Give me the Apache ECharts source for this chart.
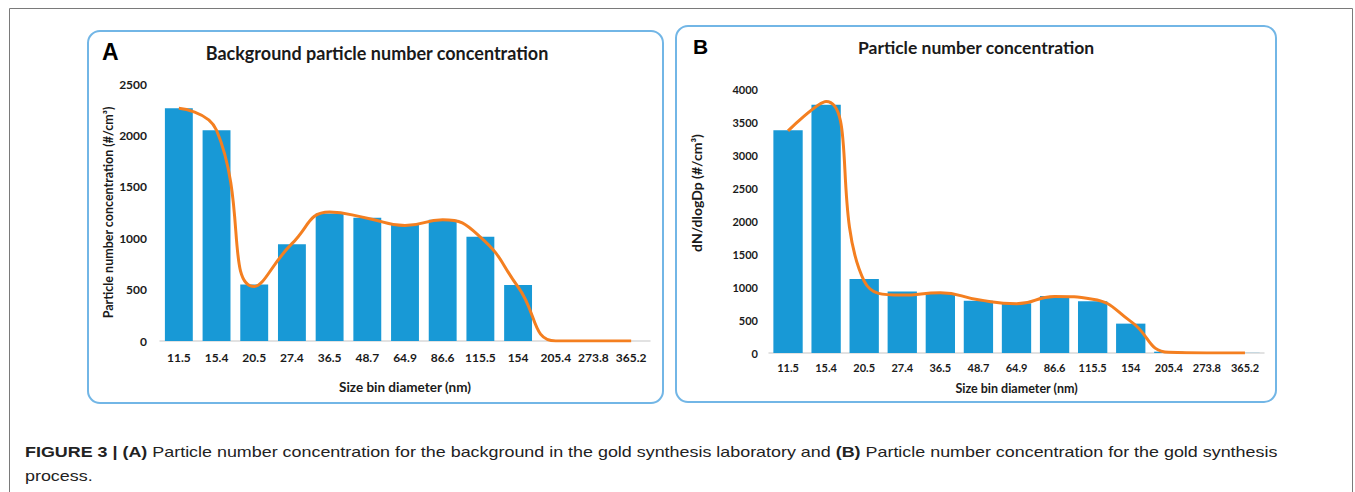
<!DOCTYPE html>
<html>
<head>
<meta charset="utf-8">
<script src="https://cdn.jsdelivr.net/npm/echarts@6/dist/echarts.min.js"></script>
<style>
  html, body { margin: 0; padding: 0; background: #fff; }
  #wrap { position: relative; width: 1355px; height: 492px; overflow: hidden; }
  #chart { position: absolute; left: 0; top: 0; width: 1355px; height: 492px; }
  #caption { position: absolute; left: 25px; top: 440px; width: 1100px; white-space: nowrap;
    transform: scaleX(1.193); transform-origin: 0 0;
    font-family: "Liberation Sans", Arial, sans-serif; font-size: 15px; line-height: 24px; color: #222; }
  #caption b { font-weight: bold; }
</style>
</head>
<body>
<div id="wrap">
  <div id="chart"></div>
  <div id="caption"><b>FIGURE 3 | (A)</b> Particle number concentration for the background in the gold synthesis laboratory and <b>(B)</b> Particle number concentration for the gold synthesis<br>process.</div>
</div>
<script>
const categories = ['11.5', '15.4', '20.5', '27.4', '36.5', '48.7', '64.9', '86.6', '115.5', '154', '205.4', '273.8', '365.2'];
const barsA = [2265, 2050, 550, 940, 1240, 1200, 1130, 1180, 1015, 545, 0, 0, 0];
const curveA = [2264, 2050, 530, 947, 1255, 1195, 1124, 1179, 1011, 526, 0, 0, 0];
const barsB = [3375, 3760, 1120, 930, 910, 790, 755, 865, 785, 445, 20, 3, 2];
const curveB = [3365, 3810, 1090, 877, 913, 807, 746, 857, 815, 479, 10, 0, 0];
const ticksA = [0, 500, 1000, 1500, 2000, 2500];
const ticksB = [0, 500, 1000, 1500, 2000, 2500, 3000, 3500, 4000];

const FONT = 'Lato, "Open Sans", sans-serif';
const TXT = '#1a1a1a';
const BAR = '#1899d6';
const LINE = '#f47f20';
const BOX = '#72b6e6';

const chart = echarts.init(document.getElementById('chart'), null, { renderer: 'svg' });

function xAxisFor(gi, fontSize, margin, gap, nameSize) {
  return {
    type: 'category', gridIndex: gi, data: categories,
    axisLine: { lineStyle: { color: '#d9d9d9', width: 1.5 } },
    axisTick: { show: false },
    axisLabel: { color: TXT, fontFamily: FONT, fontWeight: 'bold', fontSize: fontSize, margin: margin, interval: 0 },
    name: 'Size bin diameter (nm)', nameLocation: 'middle', nameGap: gap,
    nameTextStyle: { color: TXT, fontFamily: FONT, fontWeight: 'bold', fontSize: nameSize }
  };
}
function yAxisFor(gi, ticks, fontSize, margin, name, gap, nameSize, pad) {
  return {
    type: 'value', gridIndex: gi, min: ticks[0], max: ticks[ticks.length - 1],
    interval: ticks[1] - ticks[0],
    axisLine: { show: false }, axisTick: { show: false }, splitLine: { show: false },
    axisLabel: { color: TXT, fontFamily: FONT, fontWeight: 'bold', fontSize: fontSize, margin: margin,
      formatter: function (v) { return String(v); } },
    name: name, nameLocation: 'middle', nameRotate: 90, nameGap: gap,
    nameTextStyle: { color: TXT, fontFamily: FONT, fontWeight: 'bold', fontSize: nameSize, padding: pad }
  };
}

const option = {
  animation: false,
  backgroundColor: '#fff',
  grid: [
    { left: 160, right: 705, top: 84, bottom: 151 },
    { left: 769, right: 91, top: 89, bottom: 139 }
  ],
  xAxis: [
    xAxisFor(0, 12, 10, 39, 13.5),
    xAxisFor(1, 11, 9, 29, 12.5)
  ],
  yAxis: [
    yAxisFor(0, ticksA, 12, 13, 'Particle number concentration (#/cm³)', 44, 12.5, 0),
    yAxisFor(1, ticksB, 11, 11, 'dN/dlogDp (#/cm³)', 66, 14, [0, 0, 0, 56])
  ],
  series: [
    { type: 'bar', xAxisIndex: 0, yAxisIndex: 0, data: barsA, barCategoryGap: '26%',
      itemStyle: { color: BAR } },
    { type: 'line', xAxisIndex: 0, yAxisIndex: 0, data: curveA, smooth: 0.5, symbol: 'none',
      lineStyle: { color: LINE, width: 3 } },
    { type: 'bar', xAxisIndex: 1, yAxisIndex: 1, data: barsB, barCategoryGap: '23%',
      itemStyle: { color: BAR } },
    { type: 'line', xAxisIndex: 1, yAxisIndex: 1, data: curveB, smooth: 0.5, symbol: 'none',
      lineStyle: { color: LINE, width: 3 } }
  ],
  graphic: [
    { type: 'rect', shape: { x: 9.5, y: 8.5, width: 1343, height: 500 }, silent: true,
      style: { fill: 'none', stroke: '#7a7a7a', lineWidth: 1 }, z: -10 },
    { type: 'rect', shape: { x: 88, y: 31, width: 575, height: 372, r: 12 }, silent: true,
      style: { fill: 'none', stroke: BOX, lineWidth: 2 }, z: -5 },
    { type: 'rect', shape: { x: 676, y: 26, width: 600, height: 376, r: 12 }, silent: true,
      style: { fill: 'none', stroke: BOX, lineWidth: 2 }, z: -5 },
    { type: 'text', x: 102, y: 52, silent: true,
      style: { text: 'A', fill: '#000', font: 'bold 23px "Liberation Sans", Arial, sans-serif', textAlign: 'left', textVerticalAlign: 'middle' } },
    { type: 'text', x: 693, y: 46, silent: true,
      style: { text: 'B', fill: '#000', font: 'bold 21px "Liberation Sans", Arial, sans-serif', textAlign: 'left', textVerticalAlign: 'middle' } },
    { type: 'text', x: 377, y: 53, silent: true,
      style: { text: 'Background particle number concentration', fill: TXT, font: 'bold 18px Lato, sans-serif', textAlign: 'center', textVerticalAlign: 'middle' } },
    { type: 'text', x: 976, y: 47, silent: true,
      style: { text: 'Particle number concentration', fill: TXT, font: 'bold 17.5px Lato, sans-serif', textAlign: 'center', textVerticalAlign: 'middle' } }
  ]
};
chart.setOption(option);
</script>
</body>
</html>
